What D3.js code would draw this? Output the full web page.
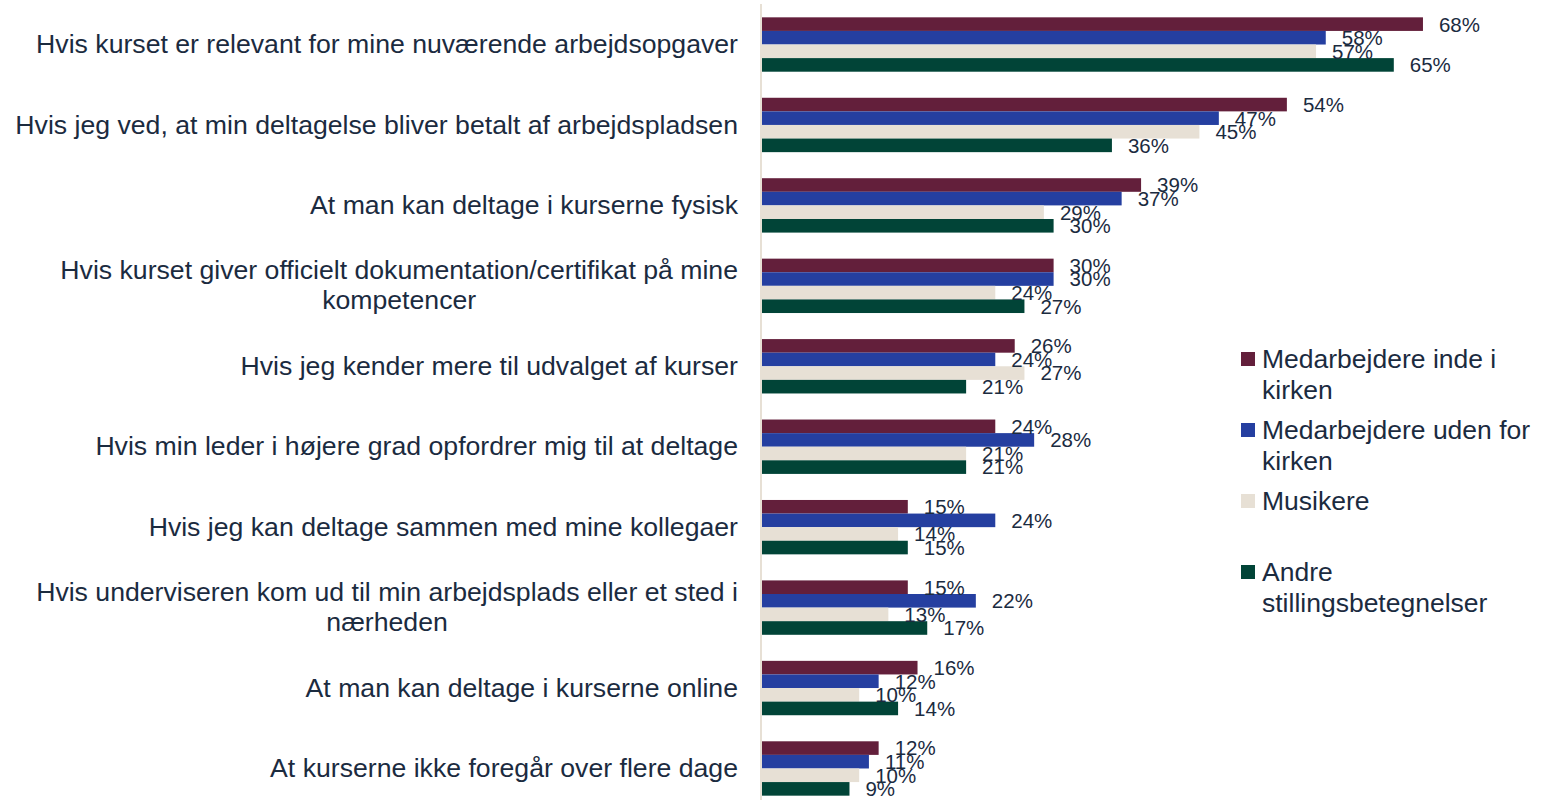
<!DOCTYPE html>
<html>
<head>
<meta charset="utf-8">
<script src="https://cdn.jsdelivr.net/npm/d3@7"></script>
<style>
  body { margin: 0; background: #fff; }
  text { font-family: "Liberation Sans", Arial, sans-serif; fill: #1b2b3f; }
</style>
</head>
<body>
<svg id="chart" width="1557" height="800"></svg>
<script>
// category labels (already split in lines like the original)
const categories = [
  ["Hvis kurset er relevant for mine nuværende arbejdsopgaver"],
  ["Hvis jeg ved, at min deltagelse bliver betalt af arbejdspladsen"],
  ["At man kan deltage i kurserne fysisk"],
  ["Hvis kurset giver officielt dokumentation/certifikat på mine", "kompetencer"],
  ["Hvis jeg kender mere til udvalget af kurser"],
  ["Hvis min leder i højere grad opfordrer mig til at deltage"],
  ["Hvis jeg kan deltage sammen med mine kollegaer"],
  ["Hvis underviseren kom ud til min arbejdsplads eller et sted i", "nærheden"],
  ["At man kan deltage i kurserne online"],
  ["At kurserne ikke foregår over flere dage"]
];

const seriesNames = [
  ["Medarbejdere inde i", "kirken"],
  ["Medarbejdere uden for", "kirken"],
  ["Musikere"],
  ["Andre", "stillingsbetegnelser"]
];
const colors = ["#631f3b", "#253fa0", "#e7e0d5", "#014437"];

const inde   = [68, 54, 39, 30, 26, 24, 15, 15, 16, 12];
const uden   = [58, 47, 37, 30, 24, 28, 24, 22, 12, 11];
const musik  = [57, 45, 29, 24, 27, 21, 14, 13, 10, 10];
const andre  = [65, 36, 30, 27, 21, 21, 15, 17, 14, 9];
const series = [inde, uden, musik, andre];

const svg = d3.select("#chart");

const x0 = 762;
const xScale = d3.scaleLinear().domain([0, 100]).range([x0, x0 + 972]);

const yScale = d3.scaleBand()
  .domain(d3.range(categories.length))
  .range([4.3, 808.7])
  .paddingInner(0.324)
  .paddingOuter(0.162);

const sub = d3.scaleBand()
  .domain(d3.range(series.length))
  .range([0, yScale.bandwidth()]);

// bars
const groups = svg.selectAll("g.grp")
  .data(categories)
  .enter().append("g")
  .attr("class", "grp")
  .attr("transform", (d, i) => `translate(0, ${yScale(i)})`);

groups.each(function(d, i) {
  const g = d3.select(this);
  series.forEach((s, k) => {
    g.append("rect")
      .attr("x", x0)
      .attr("y", sub(k))
      .attr("width", xScale(s[i]) - x0)
      .attr("height", sub.bandwidth())
      .attr("fill", colors[k]);
  });
  // the labels overlap in the original too, kept as is
  series.forEach((s, k) => {
    g.append("text")
      .attr("x", xScale(s[i]) + 16)
      .attr("y", sub(k) + sub.bandwidth() / 2)
      .attr("dy", "0.36em")
      .style("font-size", "20.5px")
      .text(s[i] + "%");
  });
});

// axis line
svg.append("line")
  .attr("x1", 761).attr("x2", 761)
  .attr("y1", 4).attr("y2", 800)
  .attr("stroke", "#e7e0d5")
  .attr("stroke-width", 2);

// category labels, block right aligned, lines centred
const lineH = 30;
categories.forEach((lines, i) => {
  const cy = yScale(i) + yScale.bandwidth() / 2;
  const t = svg.append("text").style("font-size", "26.65px");
  const spans = lines.map((ln, j) => t.append("tspan")
    .attr("y", cy + (j - (lines.length - 1) / 2) * lineH - 1)
    .attr("dy", "0.36em")
    .text(ln));
  const w = d3.max(spans, s => s.node().getComputedTextLength());
  t.attr("text-anchor", "middle");
  spans.forEach(s => s.attr("x", 738 - w / 2));
});

// legend
const legY = [359, 430, 501, 572];
seriesNames.forEach((lines, k) => {
  svg.append("rect")
    .attr("x", 1241).attr("y", legY[k] - 7)
    .attr("width", 14).attr("height", 14)
    .attr("fill", colors[k]);
  const t = svg.append("text").style("font-size", "26.5px");
  lines.forEach((ln, j) => {
    t.append("tspan")
      .attr("x", 1262)
      .attr("y", legY[k] + j * 31 - 1)
      .attr("dy", "0.36em")
      .text(ln);
  });
});
</script>
</body>
</html>
